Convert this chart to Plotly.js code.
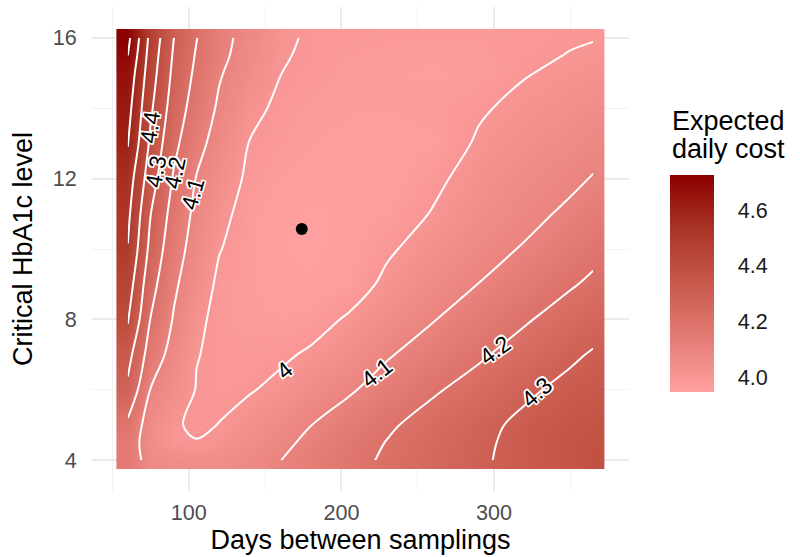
<!DOCTYPE html>
<html>
<head>
<meta charset="utf-8">
<script src="https://cdn.plot.ly/plotly-3.0.1.min.js"></script>
<style>
  html, body { margin: 0; padding: 0; background: #ffffff; }
  #chart { width: 800px; height: 557px; }
</style>
</head>
<body>
<div id="chart"></div>
<script>
// ---- data ----
const daysBetween = [60, 75, 90, 105, 120, 140, 160, 180, 205, 230, 260, 290, 320, 350, 365];
const criticalHbA1c = [4, 4.5, 5, 6, 7, 8, 9, 10, 11, 12, 13, 14, 15, 15.5, 16];
const cost_y4    = [4.15, 4.065, 4.055, 4.045, 4.05, 4.07, 4.099, 4.133, 4.174, 4.212, 4.25, 4.289, 4.325, 4.36, 4.38];
const cost_y4_5  = [4.15, 4.05, 4.002, 4.002, 4.018, 4.048, 4.08, 4.119, 4.161, 4.203, 4.243, 4.284, 4.325, 4.36, 4.375];
const cost_y5    = [4.18, 4.05, 4.005, 3.993, 4.001, 4.033, 4.063, 4.099, 4.143, 4.188, 4.233, 4.275, 4.32, 4.355, 4.365];
const cost_y6    = [4.28, 4.096, 4.045, 3.997, 3.99, 3.995, 4.018, 4.054, 4.09, 4.137, 4.19, 4.233, 4.284, 4.325, 4.34];
const cost_y7    = [4.333, 4.153, 4.066, 4.002, 3.99, 3.982, 3.988, 4.01, 4.048, 4.092, 4.141, 4.188, 4.236, 4.285, 4.308];
const cost_y8    = [4.41, 4.196, 4.094, 4.015, 3.982, 3.97, 3.965, 3.972, 4.009, 4.052, 4.096, 4.144, 4.191, 4.238, 4.262];
const cost_y9    = [4.45, 4.233, 4.115, 4.045, 3.985, 3.967, 3.953, 3.950, 3.965, 4.016, 4.062, 4.101, 4.148, 4.192, 4.215];
const cost_y10   = [4.496, 4.271, 4.139, 4.063, 4.003, 3.968, 3.95, 3.947, 3.955, 3.99, 4.032, 4.072, 4.106, 4.153, 4.176];
const cost_y11   = [4.521, 4.301, 4.163, 4.078, 4.022, 3.97, 3.952, 3.947, 3.952, 3.965, 4.004, 4.047, 4.078, 4.114, 4.14];
const cost_y12   = [4.551, 4.344, 4.191, 4.096, 4.043, 3.985, 3.965, 3.955, 3.951, 3.952, 3.985, 4.028, 4.061, 4.085, 4.104];
const cost_y13   = [4.605, 4.381, 4.224, 4.128, 4.064, 3.997, 3.978, 3.965, 3.958, 3.955, 3.962, 4.008, 4.039, 4.061, 4.076];
const cost_y14   = [4.633, 4.414, 4.254, 4.157, 4.087, 4.02, 3.985, 3.975, 3.966, 3.965, 3.972, 3.992, 4.018, 4.038, 4.05];
const cost_y15   = [4.669, 4.443, 4.279, 4.181, 4.107, 4.052, 4.001, 3.985, 3.972, 3.965, 3.962, 3.967, 3.996, 4.015, 4.024];
const cost_y15_5 = [4.70, 4.456, 4.29, 4.192, 4.12, 4.061, 4.006, 3.99, 3.978, 3.972, 3.97, 3.973, 3.99, 4.002, 4.01];
const cost_y16   = [4.726, 4.47, 4.302, 4.203, 4.125, 4.07, 4.015, 3.99, 3.983, 3.978, 3.976, 3.977, 3.985, 3.995, 3.997];
const costMin = 3.946;
const costMax = 4.726;
const optimumDays = [174];
const optimumLevel = [10.57];
const legendTicks = [4.0, 4.2, 4.4, 4.6];
const legendTickText = ['4.0', '4.2', '4.4', '4.6'];

const expectedCost = [cost_y4, cost_y4_5, cost_y5, cost_y6, cost_y7, cost_y8, cost_y9,
  cost_y10, cost_y11, cost_y12, cost_y13, cost_y14, cost_y15, cost_y15_5, cost_y16];

// ---- contour label placement (text positions, not data) ----
const contourLabels = [
  {t: '4.4', x: 74.3, y: 13.45, a: -82},
  {t: '4.3', x: 78.2, y: 12.19, a: -80},
  {t: '4.2', x: 90.7, y: 12.16, a: -78},
  {t: '4.1', x: 102.5, y: 11.56, a: -74},
  {t: '4',   x: 162.9, y: 6.56, a: -40},
  {t: '4.1', x: 223.2, y: 6.47, a: -38},
  {t: '4.2', x: 300.7, y: 7.13, a: -36},
  {t: '4.3', x: 328.2, y: 5.93, a: -42}
];

const FONT = 'Liberation Sans, Arial, Helvetica, sans-serif';
const halo = '-1.5px -1.5px 0 #fff, 1.5px -1.5px 0 #fff, -1.5px 1.5px 0 #fff, 1.5px 1.5px 0 #fff, 0 1.5px 0 #fff, 0 -1.5px 0 #fff, 1.5px 0 0 #fff, -1.5px 0 0 #fff';

const colorscale = [
  [0.00, 'rgb(255,160,160)'],
  [0.25, 'rgb(228,124,117)'],
  [0.50, 'rgb(200,89,76)'],
  [0.75, 'rgb(170,53,38)'],
  [1.00, 'rgb(139,0,0)']
];

// colourbar geometry (pixels)
const PLOT_W = 537, PLOT_H = 484;
const CB_X = 1.0764, CB_TOP = 0.6529, CB_LEN = 217, CB_THICK = 44, CB_TICK = 8;

const heat = {
  type: 'heatmap',
  x: daysBetween, y: criticalHbA1c, z: expectedCost,
  zsmooth: 'best',
  colorscale: colorscale,
  zmin: costMin, zmax: costMax,
  hoverinfo: 'skip',
  colorbar: {
    x: CB_X, xanchor: 'left', xref: 'paper',
    y: CB_TOP, yanchor: 'top', yref: 'paper',
    len: CB_LEN, lenmode: 'pixels',
    thickness: CB_THICK, thicknessmode: 'pixels',
    xpad: 0, ypad: 0,
    outlinewidth: 0,
    tickvals: legendTicks, ticktext: legendTickText,
    ticks: 'outside', ticklen: 20, tickcolor: 'rgba(0,0,0,0)',
    tickfont: {family: FONT, size: 21.6, color: '#1a1a1a'}
  }
};

const lines = {
  type: 'contour',
  x: daysBetween, y: criticalHbA1c, z: expectedCost,
  autocontour: false,
  contours: {start: 4.0, end: 4.75, size: 0.1, coloring: 'none', showlabels: false},
  line: {color: '#ffffff', width: 2, smoothing: 1},
  showscale: false,
  hoverinfo: 'skip'
};

const optimum = {
  type: 'scatter', mode: 'markers',
  x: optimumDays, y: optimumLevel,
  marker: {color: '#000000', size: 12},
  hoverinfo: 'skip', showlegend: false
};

const annotations = contourLabels.map(l => ({
  x: l.x, y: l.y, xref: 'x', yref: 'y', text: l.t, showarrow: false,
  textangle: l.a,
  font: {family: FONT, size: 23, color: '#000000', shadow: halo}
}));
annotations.push({
  xref: 'paper', yref: 'paper', x: CB_X, y: 0.7645, xanchor: 'left', yanchor: 'middle',
  text: 'Expected', showarrow: false, font: {family: FONT, size: 27, color: '#000000'}
});
annotations.push({
  xref: 'paper', yref: 'paper', x: CB_X, y: 0.7066, xanchor: 'left', yanchor: 'middle',
  text: 'daily cost', showarrow: false, font: {family: FONT, size: 27, color: '#000000'}
});

// white tick dashes inside the colour bar, derived from the tick values
const cbBottom = CB_TOP - CB_LEN / PLOT_H;
const shapes = [];
legendTicks.forEach(v => {
  const yy = cbBottom + (v - costMin) / (costMax - costMin) * (CB_LEN / PLOT_H);
  const x0 = CB_X, x1 = CB_X + CB_THICK / PLOT_W;
  const d = CB_TICK / PLOT_W;
  shapes.push({type: 'line', xref: 'paper', yref: 'paper', x0: x0, x1: x0 + d, y0: yy, y1: yy,
               line: {color: 'rgba(255,255,255,0.85)', width: 1.5}});
  shapes.push({type: 'line', xref: 'paper', yref: 'paper', x0: x1 - d, x1: x1, y0: yy, y1: yy,
               line: {color: 'rgba(255,255,255,0.85)', width: 1.5}});
});

const layout = {
  width: 800, height: 557,
  margin: {l: 92, r: 171, t: 7, b: 66, pad: 0},
  paper_bgcolor: '#ffffff', plot_bgcolor: '#ffffff',
  showlegend: false,
  font: {family: FONT},
  xaxis: {
    range: [36.5, 388.5], tick0: 0, dtick: 100,
    showgrid: true, gridcolor: '#EBEBEB', gridwidth: 2,
    minor: {dtick: 50, showgrid: true, gridcolor: '#F2F2F2', gridwidth: 1},
    zeroline: false, showline: false,
    ticks: '', ticklabelstandoff: 6,
    tickfont: {family: FONT, size: 21.6, color: '#4D4D4D'},
    title: {text: 'Days between samplings', font: {family: FONT, size: 27, color: '#000000'}, standoff: 6}
  },
  yaxis: {
    range: [3.125, 16.875], tick0: 0, dtick: 4,
    showgrid: true, gridcolor: '#EBEBEB', gridwidth: 2,
    minor: {dtick: 2, showgrid: true, gridcolor: '#F2F2F2', gridwidth: 1},
    zeroline: false, showline: false,
    ticks: 'outside', ticklen: 10, tickcolor: 'rgba(0,0,0,0)',
    tickfont: {family: FONT, size: 21.6, color: '#4D4D4D'},
    title: {text: 'Critical HbA1c level', font: {family: FONT, size: 27, color: '#000000'}, standoff: 12}
  },
  annotations: annotations,
  shapes: shapes
};

Plotly.newPlot('chart', [heat, lines, optimum], layout, {displayModeBar: false, staticPlot: true});
</script>
</body>
</html>
